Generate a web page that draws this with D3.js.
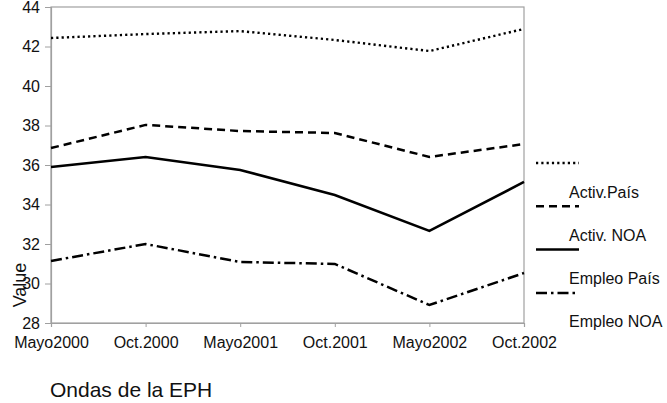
<!DOCTYPE html>
<html>
<head>
<meta charset="utf-8">
<script src="https://cdn.jsdelivr.net/npm/d3@7"></script>
<style>
  body { margin: 0; background: #fff; }
  svg { font-family: "Liberation Sans", Arial, sans-serif; }
</style>
</head>
<body>
<svg class="chart"></svg>
<script>
// data
var ondas = ["Mayo2000", "Oct.2000", "Mayo2001", "Oct.2001", "Mayo2002", "Oct.2002"];
var activPais = [42.43, 42.63, 42.78, 42.33, 41.77, 42.89];
var activNOA = [36.86, 38.03, 37.72, 37.62, 36.41, 37.06];
var empleoPais = [35.9, 36.4, 35.75, 34.48, 32.66, 35.14];
var empleoNOA = [31.14, 32.0, 31.09, 30.99, 28.91, 30.53];
var serieNames = ["Activ.País", "Activ. NOA", "Empleo País", "Empleo NOA"];
var yTicks = [28, 30, 32, 34, 36, 38, 40, 42, 44];

var series = [activPais, activNOA, empleoPais, empleoNOA];
var dashes = ["2.2,3.1", "8,5", null, "11,4,2.5,4"];
var widths = [2.4, 2.5, 2.5, 2.5];

var margin = { top: 7, left: 51, right: 143, bottom: 80 },
    width = 667 - margin.left - margin.right,
    height = 403 - margin.top - margin.bottom;

var svg = d3.select(".chart")
    .attr("width", 667)
    .attr("height", 403);

var chart = svg.append("g")
    .attr("transform", "translate(" + margin.left + "," + margin.top + ")");

var x = d3.scalePoint().domain(ondas).range([0, width]);
var y = d3.scaleLinear().domain([28, 44]).range([height, 0]);

// frame
chart.append("rect")
    .attr("width", width)
    .attr("height", height)
    .attr("fill", "none")
    .attr("stroke", "#a0a0a0")
    .attr("stroke-width", 1.2);

var yAxis = chart.append("g")
    .call(d3.axisLeft(y).tickValues(yTicks).tickSize(6).tickPadding(5).tickFormat(d3.format("d")));

var xAxis = chart.append("g")
    .attr("transform", "translate(0," + height + ")")
    .call(d3.axisBottom(x).tickSize(4).tickPadding(10));

[yAxis, xAxis].forEach(function (a) {
    a.select(".domain").attr("stroke", "#a0a0a0").attr("stroke-width", 1.2);
    a.selectAll(".tick line").attr("stroke", "#a0a0a0");
    a.selectAll("text").attr("font-size", 16).attr("fill", "#111")
        .attr("font-family", "Liberation Sans, Arial, sans-serif");
});

var line = d3.line()
    .x(function (d, i) { return x(ondas[i]); })
    .y(function (d) { return y(d); });

chart.selectAll(".serie").data(series)
    .enter().append("path")
    .attr("class", "serie")
    .attr("d", line)
    .attr("fill", "none")
    .attr("stroke", "#000")
    .attr("stroke-width", function (d, i) { return widths[i]; })
    .attr("stroke-dasharray", function (d, i) { return dashes[i]; });

// legend: sample line, then its label below
var legend = svg.append("g").attr("transform", "translate(536,163)");
var items = legend.selectAll("g").data(serieNames)
    .enter().append("g")
    .attr("transform", function (d, i) { return "translate(0," + (i * 43.3) + ")"; });

items.append("line")
    .attr("x1", 0).attr("x2", 43)
    .attr("stroke", "#000")
    .attr("stroke-width", function (d, i) { return widths[i]; })
    .attr("stroke-dasharray", function (d, i) { return dashes[i]; });

items.append("text")
    .attr("x", 33)
    .attr("y", 29)
    .attr("dy", "0.35em")
    .attr("font-size", 16)
    .attr("fill", "#111")
    .text(function (d) { return d; });

// axis titles
svg.append("text")
    .attr("x", 50)
    .attr("y", 397)
    .attr("font-size", 21)
    .attr("fill", "#111")
    .text("Ondas de la EPH");

svg.append("text")
    .attr("transform", "translate(26,285) rotate(-90)")
    .attr("text-anchor", "middle")
    .attr("font-size", 18)
    .attr("fill", "#111")
    .text("Value");
</script>
</body>
</html>
